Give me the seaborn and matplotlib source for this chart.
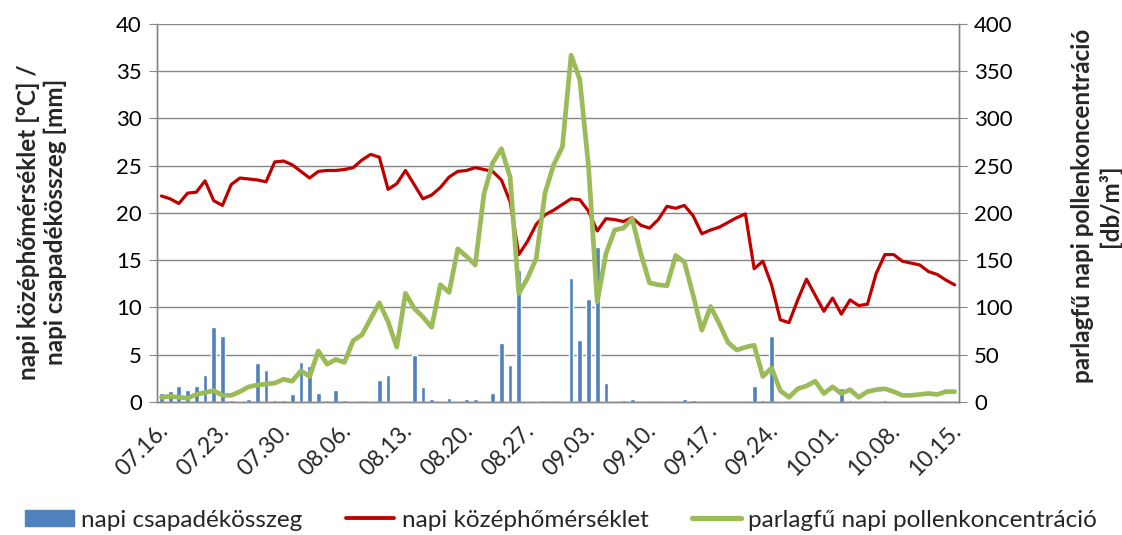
import matplotlib
matplotlib.use("Agg")
import matplotlib.pyplot as plt
import numpy as np
import pandas as pd
import seaborn as sns
from matplotlib.lines import Line2D
from matplotlib.patches import Patch

# napi középhőmérséklet [°C], 07.16. - 10.15.
temperature = [
    21.8, 21.5, 21.0, 22.1, 22.2, 23.4, 21.3, 20.8, 23.0, 23.7,
    23.6, 23.5, 23.3, 25.4, 25.5, 25.1, 24.4, 23.7, 24.4, 24.5,
    24.5, 24.6, 24.8, 25.6, 26.2, 25.9, 22.5, 23.1, 24.5, 23.0,
    21.5, 21.9, 22.7, 23.8, 24.4, 24.5, 24.8, 24.6, 24.4, 23.5,
    21.2, 15.6, 17.0, 18.8, 19.8, 20.3, 20.9, 21.5, 21.4, 20.2,
    18.1, 19.4, 19.3, 19.1, 19.5, 18.7, 18.4, 19.3, 20.7, 20.5,
    20.8, 19.7, 17.8, 18.2, 18.5, 19.0, 19.5, 19.9, 14.1, 14.9,
    12.4, 8.7, 8.4, 10.8, 13.0, 11.3, 9.6, 11.0, 9.3, 10.8,
    10.2, 10.35, 13.6, 15.6, 15.6, 14.9, 14.7, 14.5, 13.8, 13.5,
    12.9, 12.4,
]

# napi csapadékösszeg [mm]
precipitation = [
    0.95, 1.2, 1.7, 1.3, 1.7, 2.9, 7.9, 7.0, 0.2, 0.1,
    0.35, 4.1, 3.4, 0.2, 0.2, 0.8, 4.2, 3.8, 0.95, 0.2,
    1.3, 0.2, 0.1, 0.0, 0.1, 2.3, 2.9, 0.1, 0.0, 4.95,
    1.6, 0.35, 0.1, 0.45, 0.1, 0.3, 0.3, 0.1, 0.9, 6.2,
    3.9, 14.0, 0.1, 0.1, 0.0, 0.0, 0.1, 13.1, 6.6, 10.9,
    16.4, 2.0, 0.1, 0.2, 0.35, 0.0, 0.0, 0.0, 0.0, 0.0,
    0.3, 0.2, 0.0, 0.0, 0.0, 0.0, 0.0, 0.0, 1.7, 0.2,
    7.0, 0.1, 0.0, 0.0, 0.0, 0.1, 0.0, 0.1, 1.5, 0.2,
    0.0, 0.0, 0.1, 0.25, 0.1, 0.1, 0.1, 0.0, 0.0, 0.0,
    0.0, 0.0,
]

# parlagfű napi pollenkoncentráció [db/m3]
pollen = [
    5, 6, 5, 4, 8, 10, 12, 7, 7, 11,
    16, 18, 19, 20, 24, 22, 33, 27, 54, 40,
    45, 42, 65, 71, 88, 105, 85, 58, 115, 99,
    90, 79, 124, 116, 162, 154, 145, 220, 253, 268,
    238, 115, 131, 152, 221, 251, 270, 367, 341, 249,
    106, 157, 182, 184, 194, 157, 126, 124, 123, 155,
    148, 113, 76, 101, 83, 63, 55, 58, 60, 27,
    36, 12, 5, 14, 17, 22, 9, 16, 9, 13,
    5, 11, 13, 14, 11, 7, 7, 8, 9, 8,
    11, 11,
]

tick_labels = ["07.16.", "07.23.", "07.30.", "08.06.", "08.13.", "08.20.", "08.27.",
               "09.03.", "09.10.", "09.17.", "09.24.", "10.01.", "10.08.", "10.15."]

BLUE = "#4F81BD"
RED = "#C00000"
GREEN = "#9BBB59"
GRID = "#868686"

sns.set_style("white")
plt.rcParams["font.family"] = ["Lato", "DejaVu Sans"]

df = pd.DataFrame({
    "day": np.arange(len(temperature)),
    "temperature": temperature,
    "precipitation": precipitation,
    "pollen": pollen,
})

fig = plt.figure(figsize=(11.22, 5.35), dpi=100)
ax = fig.add_axes([0.14, 0.2486, 0.7147, 0.7066])

sns.barplot(data=df, x="day", y="precipitation", color=BLUE, width=0.55,
            saturation=1, ax=ax, zorder=2)
sns.lineplot(data=df, x="day", y="temperature", color=RED, linewidth=2.3,
             solid_joinstyle="round", solid_capstyle="round", ax=ax, zorder=3)

ax2 = ax.twinx()
sns.lineplot(data=df, x="day", y="pollen", color=GREEN, linewidth=3.4,
             solid_joinstyle="round", solid_capstyle="round", ax=ax2)

ax.set_xlim(-0.5, len(temperature) - 0.5)
ax.set_ylim(0, 40)
ax2.set_ylim(0, 400)
ax.set_yticks(np.arange(0, 41, 5))
ax2.set_yticks(np.arange(0, 401, 50))

ax.set_xticks(np.arange(0, len(temperature), 7) - 0.5)
ax.set_xticklabels(tick_labels, rotation=45, ha="right", va="top",
                   rotation_mode="anchor", fontsize=16.5)

ax.yaxis.grid(True, color=GRID, linewidth=1.0)
ax.set_axisbelow(True)

for a in (ax, ax2):
    a.spines["top"].set_visible(False)
    for side in ("left", "right", "bottom"):
        a.spines[side].set_color(GRID)
        a.spines[side].set_linewidth(1.0)
    a.tick_params(axis="y", labelsize=16, length=6, color=GRID, colors="black")
    a.tick_params(axis="y", color=GRID)
ax.tick_params(axis="x", length=7, color=GRID, pad=6)
ax.tick_params(axis="y", left=True, pad=5)
ax2.tick_params(axis="y", right=True, pad=5)

ax.set_xlabel("")
ax.set_ylabel("napi középhőmérséklet [°C] /\nnapi csapadékösszeg [mm]",
              fontsize=17.5, fontweight="bold")
ax.yaxis.set_label_coords(-0.112, 0.476)
ax2.set_ylabel("parlagfű napi pollenkoncentráció\n[db/m³]",
               fontsize=17.5, fontweight="bold")
ax2.yaxis.set_label_coords(1.14, 0.518)

handles = [
    Patch(facecolor=BLUE, edgecolor=BLUE),
    Line2D([0], [0], color=RED, linewidth=2.8),
    Line2D([0], [0], color=GREEN, linewidth=3.8),
]
labels = ["napi csapadékösszeg", "napi középhőmérséklet",
          "parlagfű napi pollenkoncentráció"]
fig.legend(handles, labels, loc="center", bbox_to_anchor=(0.5, 0.028),
           ncol=3, frameon=False, fontsize=17.5, handlelength=2.0,
           handleheight=0.6, handletextpad=0.3, columnspacing=1.8,
           borderpad=0)

fig.savefig("out.png", dpi=100)
